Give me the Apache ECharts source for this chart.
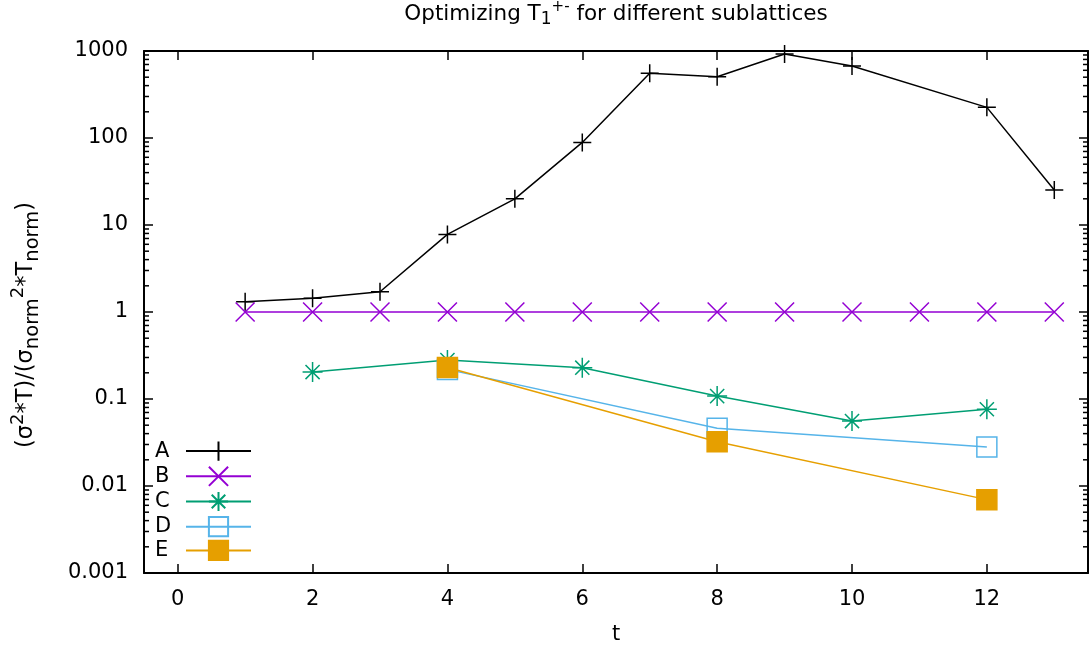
<!DOCTYPE html>
<html>
<head>
<meta charset="utf-8">
<script src="https://cdn.jsdelivr.net/npm/echarts@6/dist/echarts.min.js"></script>
<style>
  html, body { margin: 0; padding: 0; background: #ffffff; }
  #chart { width: 1092px; height: 650px; }
</style>
</head>
<body>
<div id="chart"></div>
<script>
// Sublattice series: time slice t and normalised cost (sigma^2 * T) / (sigma_norm^2 * T_norm)
const seriesNames = ['A', 'B', 'C', 'D', 'E'];

const tA = [1, 2, 3, 4, 5, 6, 7, 8, 9, 10, 12, 13];
const valA = [1.31, 1.44, 1.71, 7.8, 20, 89, 555, 507, 924, 673, 225, 25.2];

const tB = [1, 2, 3, 4, 5, 6, 7, 8, 9, 10, 11, 12, 13];
const valB = [1, 1, 1, 1, 1, 1, 1, 1, 1, 1, 1, 1, 1];

const tC = [2, 4, 6, 8, 10, 12];
const valC = [0.204, 0.28, 0.229, 0.108, 0.0558, 0.0762];

const tD = [4, 8, 12];
const valD = [0.219, 0.046, 0.0281];

const tE = [4, 8, 12];
const valE = [0.23, 0.0323, 0.00697];

// Axis tick labels
const xTicks = [0, 2, 4, 6, 8, 10, 12];
const yTicks = [0.001, 0.01, 0.1, 1, 10, 100, 1000];

// Minor log ticks (2..9 within each decade)
const yMinor = [];
for (let i = 0; i < yTicks.length - 1; i++) {
  for (let k = 2; k <= 9; k++) yMinor.push(Number((yTicks[i] * k).toPrecision(6)));
}

const X_MIN = -0.5, X_MAX = 13.5;
const FONT = 'DejaVu Sans';
const FS = 21;
const colors = ['#000000', '#9400d3', '#009e73', '#56b4e9', '#e69f00'];
const symbols = [
  'path://M0,-10L0,10M-10,0L10,0',
  'path://M-10,-10L10,10M-10,10L10,-10',
  'path://M0,-10L0,10M-10,0L10,0M-7.07,-7.07L7.07,7.07M-7.07,7.07L7.07,-7.07',
  'path://M-10,-10L10,-10L10,10L-10,10Z',
  'path://M-10,-10L10,-10L10,10L-10,10Z'
];
const symbolSizes = [18, 19, 20, 20, 20];
const fills = ['none', 'none', 'none', 'none', '#e69f00'];
const tValues = [tA, tB, tC, tD, tE];
const yValues = [valA, valB, valC, valD, valE];

function pairs(xs, ys) { return xs.map((x, i) => [x, ys[i]]); }

function fmt(v) { return String(Number(v.toPrecision(6))); }

const frameLine = { show: true, onZero: false, lineStyle: { color: '#000', width: 2 } };

const series = seriesNames.map((name, i) => ({
  name: name,
  type: 'line',
  data: pairs(tValues[i], yValues[i]),
  symbol: symbols[i],
  symbolSize: symbolSizes[i],
  showAllSymbol: true,
  color: colors[i],
  lineStyle: { color: colors[i], width: 1.5 },
  itemStyle: { color: fills[i], borderColor: colors[i], borderWidth: 1.5 },
  emphasis: { disabled: true },
  clip: false,
  z: 10 + i
}));

// Inward log ticks on the left and right frame edges (major = 9px, minor = 5px)
const yTickData = yTicks.map(v => [6, v, 9]).concat(yMinor.map(v => [6, v, 5]));
series.push({
  type: 'custom',
  name: 'frame-ticks',
  xAxisIndex: 0,
  yAxisIndex: 0,
  data: yTickData,
  silent: true,
  clip: false,
  z: 20,
  encode: { x: 0, y: 1 },
  renderItem: function (params, api) {
    const cs = params.coordSys;
    const y = api.coord([api.value(0), api.value(1)])[1];
    const len = api.value(2);
    const left = cs.x;
    const right = cs.x + cs.width;
    return {
      type: 'group',
      children: [
        { type: 'rect', shape: { x: left, y: y - 0.75, width: len, height: 1.5 }, style: { fill: '#000' } },
        { type: 'rect', shape: { x: right - len, y: y - 0.75, width: len, height: 1.5 }, style: { fill: '#000' } }
      ]
    };
  }
});

const chart = echarts.init(document.getElementById('chart'), null, { renderer: 'canvas' });

chart.setOption({
  animation: false,
  backgroundColor: '#ffffff',
  textStyle: { fontFamily: FONT },
  title: {
    text: '{n|Optimizing T}{sub|1}{sup|+-}{n| for different sublattices}',
    left: 616,
    textAlign: 'center',
    top: 0,
    padding: 0,
    textStyle: {
      fontWeight: 'normal',
      rich: {
        n: { fontFamily: FONT, fontSize: 21.5, fontWeight: 'normal', color: '#000', lineHeight: 28, verticalAlign: 'middle' },
        sub: { fontFamily: FONT, fontSize: 17, fontWeight: 'normal', color: '#000', verticalAlign: 'bottom', lineHeight: 28 },
        sup: { fontFamily: FONT, fontSize: 15, fontWeight: 'normal', color: '#000', verticalAlign: 'top', lineHeight: 28 }
      }
    }
  },
  graphic: [
    {
      type: 'text',
      x: 26,
      y: 325,
      rotation: Math.PI / 2,
      style: {
        text: '{n|(σ}{sup|2}{n|*T)/(σ}{sub|norm}{sup|2}{n|*T}{sub|norm}{n|)}',
        align: 'center',
        verticalAlign: 'middle',
        rich: {
          n: { fontFamily: FONT, fontSize: 22.5, fill: '#000', lineHeight: 34, verticalAlign: 'middle' },
          sub: { fontFamily: FONT, fontSize: 19.5, fill: '#000', lineHeight: 34, verticalAlign: 'bottom' },
          sup: { fontFamily: FONT, fontSize: 18, fill: '#000', lineHeight: 34, verticalAlign: 'top' }
        }
      }
    }
  ],
  grid: { left: 144, right: 4, top: 51, bottom: 77, containLabel: false },
  legend: {
    orient: 'vertical',
    left: 155,
    top: 439,
    align: 'right',
    itemWidth: 65,
    itemHeight: 24,
    itemGap: 1,
    padding: 0,
    data: seriesNames,
    formatter: '{l|{name}}',
    textStyle: {
      rich: { l: { fontFamily: FONT, fontSize: FS, color: '#000', width: 26, align: 'left', lineHeight: 24 } }
    },
    inactiveColor: '#000'
  },
  xAxis: [
    {
      type: 'value', position: 'bottom', min: X_MIN, max: X_MAX,
      axisLine: frameLine,
      axisTick: { show: true, inside: true, length: 9, customValues: xTicks, lineStyle: { color: '#000', width: 1.5 } },
      axisLabel: { show: true, customValues: xTicks, margin: 16, fontFamily: FONT, fontSize: FS, color: '#000' },
      splitLine: { show: false },
      name: 't', nameLocation: 'middle', nameGap: 51,
      nameTextStyle: { fontFamily: FONT, fontSize: FS, color: '#000' }
    },
    {
      type: 'value', position: 'top', min: X_MIN, max: X_MAX,
      axisLine: frameLine,
      axisTick: { show: true, inside: true, length: 9, customValues: xTicks, lineStyle: { color: '#000', width: 1.5 } },
      axisLabel: { show: false },
      splitLine: { show: false }
    }
  ],
  yAxis: [
    {
      type: 'log', logBase: 10, position: 'left', min: 0.001, max: 1000,
      axisLine: frameLine,
      axisTick: { show: false },
      axisLabel: { show: true, customValues: yTicks, margin: 16, fontFamily: FONT, fontSize: FS, color: '#000', formatter: fmt },
      splitLine: { show: false },
      minorTick: { show: false }
    },
    {
      type: 'log', logBase: 10, position: 'right', min: 0.001, max: 1000,
      axisLine: frameLine,
      axisTick: { show: false },
      axisLabel: { show: false },
      splitLine: { show: false }
    }
  ],
  series: series
});
</script>
</body>
</html>
